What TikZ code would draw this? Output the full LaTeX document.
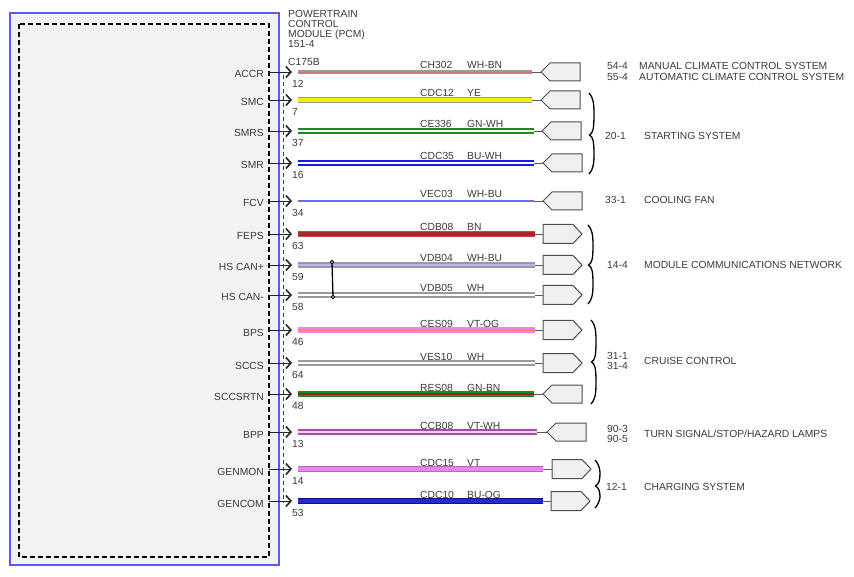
\documentclass[tikz,border=0pt]{standalone}
\usepackage{fontspec}
\setmainfont{Liberation Sans}
\usetikzlibrary{arrows.meta}
\definecolor{boxblue}{HTML}{5A5AFF}
\definecolor{boxfill}{HTML}{F2F2F2}
\definecolor{txtgray}{HTML}{3A3A3A}
\definecolor{connfill}{HTML}{F0F0F0}
\definecolor{wred}{HTML}{E07070}
\definecolor{wyellow}{HTML}{F2F200}
\definecolor{wgreen}{HTML}{1F8A1F}
\definecolor{wblue}{HTML}{1A1AD8}
\definecolor{fcvblue}{HTML}{6B6BFF}
\definecolor{wbrown}{HTML}{A82828}
\definecolor{wbrownb}{HTML}{C04848}
\definecolor{wlblue}{HTML}{B4B4FF}
\definecolor{wviolet}{HTML}{EE82EE}
\definecolor{worange}{HTML}{FF8C50}
\definecolor{wdred}{HTML}{A02020}
\definecolor{wpurple}{HTML}{A050A0}
\definecolor{wpinkw}{HTML}{FFC8FF}
\definecolor{wvtb}{HTML}{B070B0}
\definecolor{wnavy}{HTML}{101080}
\definecolor{wbuog}{HTML}{2828D0}
\tikzset{
  txt/.style={font=\fontsize{10.3}{11}\selectfont, text=txtgray, inner sep=0pt},
  pinline/.style={draw=black!85, line width=0.8pt, -{Straight Barb[length=5pt,width=11pt,line width=1.6pt]}},
  lead/.style={draw=black!65, line width=0.9pt},
  conn/.style={draw=black!70, fill=connfill, line width=1pt, line join=miter},
  brc/.style={draw=black, line width=1.3pt},
  wire/.style={line width=1.2pt, double distance=2.8pt},
  swire/.style={line width=0.8pt, double distance=3.6pt},
  wyel/.style={swire, draw=black!40, double=wyellow},
  wgnwh/.style={wire, draw=wgreen, double=white},
  wbuwh/.style={wire, draw=wblue, double=white},
  wfcv/.style={draw=fcvblue, line width=1.5pt},
  wbn/.style={swire, draw=wbrownb, double=wbrown},
  whsp/.style={wire, draw=black!40, double=wlblue},
  wwh/.style={wire, draw=black!40, double=white},
  wvtog/.style={wire, draw=wviolet, double=worange},
  wgnbn/.style={wire, draw=wgreen, double=wdred},
  wvtwh/.style={wire, draw=wpurple, double=wpinkw},
  wvt/.style={swire, draw=wvtb, double=wviolet},
  wbuog/.style={swire, draw=wnavy, double=wbuog},
}
% id, y, label, pin, circuit, colour code, wire end x
\newcommand\pinrow[7]{%
  \node[txt, anchor=base east] (L#1) at (264,#2+6) {#3};
  \coordinate (B#1) at (269,#2);
  \coordinate (T#1) at (292,#2);
  \draw[pinline] (B#1) -- (T#1);
  \node[txt, anchor=base west] (N#1) at (292,#2+15.5) {#4};
  \node[txt, anchor=base west] (C#1) at (420,#2-3) {#5};
  \node[txt, anchor=base west] (K#1) at (467,#2-3) {#6};
  \coordinate (W#1) at (298,#2);
  \coordinate (E#1) at (#7,#2);
}
% left-pointing connector: id, tip x, y
\newcommand\connL[3]{%
  \coordinate (P#1) at (#2,#3);
  \draw[conn] (P#1) -- ++(9,-9) -- ++(30,0) -- ++(0,18) -- ++(-30,0) -- cycle;
  \draw[lead] (E#1) -- (P#1);
}
% right-pointing connector: id, left x, y
\newcommand\connR[3]{%
  \coordinate (P#1) at (#2,#3);
  \draw[conn] (P#1) -- ++(0,-9.5) -- ++(30,0) -- ++(9,9.5) -- ++(-9,9.5) -- ++(-30,0) -- cycle;
  \draw[lead] (E#1) -- (P#1);
}
% brace: x, ytop, ymid, ybottom
\newcommand\mybrace[4]{%
  \draw[brc] (#1,#2) .. controls ({#1+4},{#2+4}) and ({#1+5},{#2+10}) .. ({#1+5},{(#2+#3)/2})
    .. controls ({#1+5},{#3-6}) and ({#1+4},{#3-2}) .. ({#1+0.5},#3)
    .. controls ({#1+4},{#3+2}) and ({#1+5},{#3+6}) .. ({#1+5},{(#3+#4)/2})
    .. controls ({#1+5},{#4-10}) and ({#1+4},{#4-4}) .. (#1,#4);
}
\begin{document}
\begin{tikzpicture}[x=1pt,y=-1pt]
\useasboundingbox (0,0) rectangle (854,577);
% module box
\draw[draw=boxblue, fill=boxfill, line width=1.2pt] (10,13) rectangle (279,565);
\draw[black, line width=1.1pt, dash pattern=on 5pt off 3pt] (19,24) rectangle (269,557);
% header
\node[txt, anchor=base west] (h1) at (288,17.5) {POWERTRAIN};
\node[txt, anchor=base west] (h2) at (288,27.5) {CONTROL};
\node[txt, anchor=base west] (h3) at (288,37.5) {MODULE (PCM)};
\node[txt, anchor=base west] (h4) at (288,48) {151-4};
\node[txt, anchor=base west] (h5) at (288,66) {C175B};
% rows
\pinrow{1}{72}{ACCR}{12}{CH302}{WH-BN}{532}
\pinrow{2}{100}{SMC}{7}{CDC12}{YE}{532}
\pinrow{3}{131}{SMRS}{37}{CE336}{GN-WH}{534}
\pinrow{4}{163}{SMR}{16}{CDC35}{BU-WH}{534}
\pinrow{5}{201}{FCV}{34}{VEC03}{WH-BU}{534}
\pinrow{6}{234}{FEPS}{63}{CDB08}{BN}{535}
\pinrow{7}{265}{HS CAN+}{59}{VDB04}{WH-BU}{535}
\pinrow{8}{295}{HS CAN-}{58}{VDB05}{WH}{535}
\pinrow{9}{330}{BPS}{46}{CES09}{VT-OG}{535}
\pinrow{10}{363}{SCCS}{64}{VES10}{WH}{535}
\pinrow{11}{394}{SCCSRTN}{48}{RES08}{GN-BN}{534}
\pinrow{12}{432}{BPP}{13}{CCB08}{VT-WH}{537}
\pinrow{13}{469}{GENMON}{14}{CDC15}{VT}{543}
\pinrow{14}{501}{GENCOM}{53}{CDC10}{BU-OG}{543}
% inner dashed line
\draw[black!75, line width=0.8pt, dash pattern=on 4pt off 3pt] (283,75) -- (283,503);
% wires
\draw[black!40, line width=1.6pt] ([yshift=1pt]W1) -- ([yshift=1pt]E1);
\draw[wred, line width=1.4pt] ([yshift=-1pt]W1) -- ([yshift=-1pt]E1);
\draw[wyel] (W2) -- (E2);
\draw[wgnwh] (W3) -- (E3);
\draw[wbuwh] (W4) -- (E4);
\draw[wfcv] (W5) -- (E5);
\draw[wbn] (W6) -- (E6);
\draw[whsp] (W7) -- (E7);
\draw[wwh] (W8) -- (E8);
\draw[wvtog] (W9) -- (E9);
\draw[wwh] (W10) -- (E10);
\draw[wgnbn] (W11) -- (E11);
\draw[wvtwh] (W12) -- (E12);
\draw[wvt] (W13) -- (E13);
\draw[wbuog] (W14) -- (E14);
% twisted pair
\node[circle, draw=black, line width=0.8pt, fill=white, inner sep=0pt, minimum size=3.5pt] (tw1) at (332,262) {};
\node[circle, draw=black, line width=0.8pt, fill=white, inner sep=0pt, minimum size=3.5pt] (tw2) at (333,297) {};
\draw[black, line width=1.3pt] (tw1) -- (tw2);
% connectors
\connL{1}{541}{72}
\connL{2}{541}{100}
\connL{3}{542}{131}
\connL{4}{543}{163}
\connL{5}{543}{201}
\connR{6}{543}{234}
\connR{7}{543}{265}
\connR{8}{543}{295}
\connR{9}{543}{330}
\connR{10}{543}{363}
\connL{11}{543}{394}
\connL{12}{547}{432}
\connR{13}{552}{469}
\connR{14}{551}{501}
% braces
\mybrace{589}{93}{135}{174}
\mybrace{588}{225}{265}{304}
\mybrace{591}{320}{362}{404}
\mybrace{595}{460}{486}{508}
% system references
\node[txt, anchor=base west] (r1a) at (607,69.5) {54-4};
\node[txt, anchor=base west] (r1b) at (607,80.5) {55-4};
\node[txt, anchor=base west] (d1a) at (639,69.5) {MANUAL CLIMATE CONTROL SYSTEM};
\node[txt, anchor=base west] (d1b) at (639,80.5) {AUTOMATIC CLIMATE CONTROL SYSTEM};
\node[txt, anchor=base west] (r2) at (605,140) {20-1};
\node[txt, anchor=base west] (d2) at (644,140) {STARTING SYSTEM};
\node[txt, anchor=base west] (r3) at (605,204) {33-1};
\node[txt, anchor=base west] (d3) at (644,204) {COOLING FAN};
\node[txt, anchor=base west] (r4) at (607,269) {14-4};
\node[txt, anchor=base west] (d4) at (644,269) {MODULE COMMUNICATIONS NETWORK};
\node[txt, anchor=base west] (r5a) at (607,359.5) {31-1};
\node[txt, anchor=base west] (r5b) at (607,369) {31-4};
\node[txt, anchor=base west] (d5) at (644,364) {CRUISE CONTROL};
\node[txt, anchor=base west] (r6a) at (607,432) {90-3};
\node[txt, anchor=base west] (r6b) at (607,442) {90-5};
\node[txt, anchor=base west] (d6) at (644,437.5) {TURN SIGNAL/STOP/HAZARD LAMPS};
\node[txt, anchor=base west] (r7) at (606,490) {12-1};
\node[txt, anchor=base west] (d7) at (644,490) {CHARGING SYSTEM};
\end{tikzpicture}
\end{document}
